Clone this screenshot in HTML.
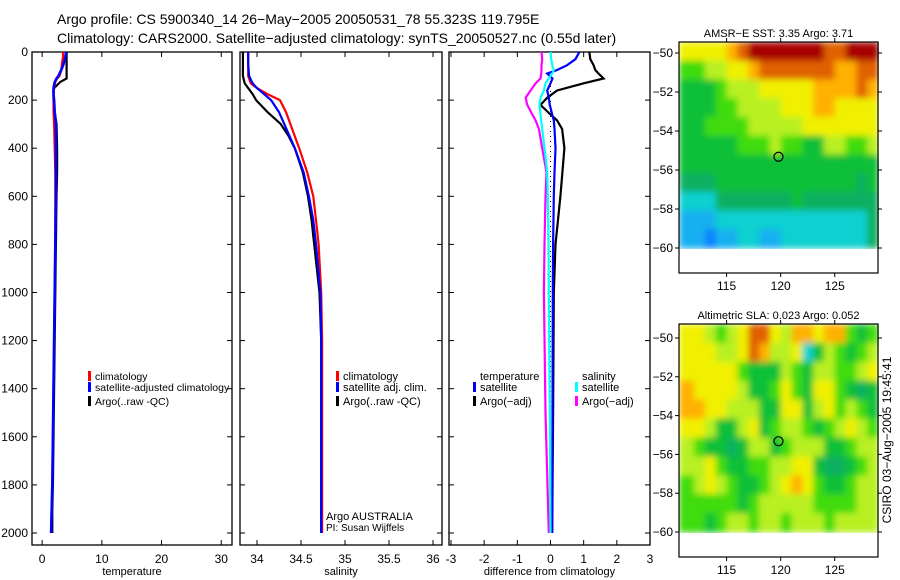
<!DOCTYPE html>
<html><head><meta charset="utf-8"><style>
body{margin:0;background:#fff}
svg{display:block;font-family:"Liberation Sans",sans-serif}
</style></head><body>
<svg id="fig" width="900" height="580" viewBox="0 0 900 580">
<defs>
<filter id="smooth" x="0" y="0" width="1" height="1" filterUnits="objectBoundingBox"><feGaussianBlur stdDeviation="3.2" edgeMode="duplicate"/></filter>
</defs>
<text x="57" y="24" font-size="14">Argo profile: CS 5900340_14 26−May−2005 20050531_78 55.323S 119.795E</text>
<text x="57" y="43" font-size="14">Climatology: CARS2000. Satellite−adjusted climatology: synTS_20050527.nc (0.55d later)</text>
<g id="g"></g>
</svg>
<script>
// ---- profile data ----
const tDepth=[0,20,50,75,100,110,125,150,175,200,250,300,400,500,600,800,1000,1200,1400,1600,1800,1900,2000];
const tArgo=[4.1,4.1,4.1,4.1,4.1,4.1,3.0,2.0,1.9,1.9,2.1,2.4,2.5,2.5,2.4,2.3,2.2,2.1,2.0,1.9,1.8,1.7,1.7];
const tClim=[3.5,3.5,3.3,3.2,2.9,2.5,2.2,2.0,1.9,1.9,1.9,2.0,2.1,2.2,2.2,2.2,2.1,2.0,1.9,1.8,1.7,1.6,1.5];
const tSat=[4.0,3.9,3.6,3.2,2.7,2.4,2.1,1.9,1.9,2.0,2.1,2.3,2.3,2.3,2.3,2.2,2.1,2.0,1.9,1.8,1.7,1.6,1.5];
const sDepth=[0,50,100,130,150,175,200,250,300,350,400,500,600,700,800,1000,1200,1500,2000];
const sArgo=[33.84,33.84,33.84,33.86,33.9,33.95,33.99,34.12,34.27,34.36,34.43,34.52,34.58,34.62,34.65,34.71,34.73,34.73,34.73];
const sClim=[33.9,33.9,33.9,33.93,34.0,34.12,34.26,34.33,34.38,34.43,34.48,34.57,34.64,34.67,34.7,34.73,34.74,34.74,34.74];
const sSat=[33.9,33.9,33.91,33.95,34.0,34.08,34.16,34.25,34.31,34.37,34.43,34.53,34.59,34.64,34.67,34.72,34.73,34.73,34.73];
const dDepth=[0,30,55,75,90,110,130,160,190,220,260,285,320,400,500,600,800,1000,1500,2000];
const dArgoT=[1.17,1.2,1.3,1.35,1.45,1.6,1.0,0.2,-0.1,-0.3,0,0.2,0.35,0.42,0.36,0.3,0.15,0.1,0.08,0.05];
const dSatT=[0.87,0.75,0.5,0.2,-0.1,0.06,0.0,-0.1,-0.05,-0.02,0.05,0.1,0.12,0.15,0.12,0.1,0.08,0.07,0.06,0.05];
const dSatS=[0,0.02,0.05,0.1,0.05,-0.05,-0.15,-0.2,-0.3,-0.33,-0.3,-0.28,-0.25,-0.18,-0.1,-0.08,-0.06,-0.05,-0.02,0];
const dArgoS=[-0.27,-0.25,-0.27,-0.27,-0.28,-0.3,-0.45,-0.6,-0.75,-0.7,-0.55,-0.45,-0.35,-0.25,-0.12,-0.15,-0.18,-0.2,-0.15,-0.05];
const depthTicks=[0,200,400,600,800,1000,1200,1400,1600,1800,2000];
const tTicks=[0,10,20,30];
const sTicks=[34,34.5,35,35.5,36];
const dTicks=[-3,-2,-1,0,1,2,3];
// ---- map data (rows north->south, cols west->east, lon 111..129) ----
const sstGrid=[
[7,7,7,7,8,9,10,10,10,10,10,10,10,9,9,10,10,10],
[5,5,6,6,7,7,8,9,9,9,9,9,9,9,8,8,9,9],
[4,4,4,5,6,6,6,7,7,7,7,7,8,8,8,8,9,8],
[4,4,4,5,5,6,6,6,6,7,7,7,8,8,7,7,7,7],
[4,4,5,5,5,5,6,6,6,6,6,7,7,7,7,7,7,7],
[4,4,4,4,4,5,5,5,6,5,5,4,4,6,6,5,5,6],
[4,4,4,4,4,4,4,4,4,4,4,4,4,4,4,4,4,4],
[3,3,3,4,4,4,4,4,4,4,4,4,4,4,4,4,3,4],
[2,2,2,3,3,3,3,3,3,3,4,3,3,3,3,3,3,3],
[1,1,1,2,2,2,2,2,2,2,2,2,2,2,2,2,2,3],
[1,1,0,1,1,2,2,1,1,2,2,2,2,2,2,2,2,3]];
const slaGrid=[
[7,7,6,5,6,7,9,9,7,6,8,8,7,8,8,5,4,5],
[7,7,7,6,6,7,9,8,6,6,7,2,4,6,5,4,5,6],
[7,7,7,7,7,5,4,4,4,6,5,4,6,6,5,5,6,7],
[8,7,7,7,7,6,4,4,5,7,5,4,7,7,5,4,3,4],
[8,8,7,7,6,6,6,4,4,7,7,4,6,7,5,6,5,4],
[7,7,6,4,4,6,7,4,5,6,6,5,4,5,6,7,6,5],
[6,5,4,4,3,4,6,6,4,5,6,6,6,4,4,5,6,6],
[6,6,7,5,4,4,5,5,6,6,7,7,4,3,3,4,5,6],
[5,6,7,6,5,4,4,5,6,7,8,7,5,4,4,5,6,6],
[5,5,5,5,5,4,5,6,6,6,6,6,5,5,5,5,6,6],
[5,5,4,5,6,6,5,6,6,5,6,6,6,5,6,6,6,6]];
const palette=["#1080ff","#18b0f0","#10d0d0","#10b060","#08c038","#40dc10","#b8f020","#f0f000","#ffb000","#e06000","#a80000"];
const lonTicks=[115,120,125];
const latTicks=[-50,-52,-54,-56,-58,-60];
const argoLon=[119.8], argoLat=[-55.32];

const NS="http://www.w3.org/2000/svg";
const G=document.getElementById('g');
function mk(tag,attrs,parent){const e=document.createElementNS(NS,tag);for(const k in attrs)e.setAttribute(k,attrs[k]);(parent||G).appendChild(e);return e;}
function txt(x,y,s,size,anchor,parent){const e=mk('text',{x:x,y:y,'font-size':size||11,'text-anchor':anchor||'start'},parent);e.textContent=s;return e;}

const Y0=52,Y1=545,yD=d=>Y0+d*0.2405;
function panel(name,x0,x1,xmin,xmax,ticks,label,showY){
  const xs=v=>x0+(v-xmin)/(xmax-xmin)*(x1-x0);
  const g=mk('g',{});
  
  
  const r=mk('rect',{x:x0,y:Y0,width:x1-x0,height:Y1-Y0,fill:'none',stroke:'#000','stroke-width':1.3},g);
  
  
  ticks.forEach(t=>{const x=xs(t);
    mk('line',{x1:x,x2:x,y1:Y0,y2:Y0+5,stroke:'#000'},g);
    mk('line',{x1:x,x2:x,y1:Y1,y2:Y1-5,stroke:'#000'},g);
    const l=txt(x,Y1+18,String(t),12,'middle',g);
    
    
  });
  depthTicks.forEach(d=>{const y=yD(d);
    mk('line',{x1:x0,x2:x0+5,y1:y,y2:y,stroke:'#000'},g);
    mk('line',{x1:x1,x2:x1-5,y1:y,y2:y,stroke:'#000'},g);
    if(showY){const l=txt(x0-4,y+4,String(d),12,'end',g);
      
      }
  });
  const xl=txt((x0+x1)/2,Y1+30,label,11,'middle',g);
  
  
  return xs;
}
function line(xs,depths,vals,color,name,w,dash){
  const pts=depths.map((d,i)=>xs(vals[i]).toFixed(1)+','+yD(d).toFixed(1)).join(' ');
  const p=mk('polyline',{points:pts,fill:'none',stroke:color,'stroke-width':w||2.2});
  if(dash)p.setAttribute('stroke-dasharray',dash);
  
  
}
function leg(x,y,color,label,size){
  if(color){const b=mk('rect',{x:x,y:y-9,width:3,height:10,fill:color});
    
    }
  const t=txt(x+7,y,label,size||11);
  
  
}

const xT=panel('temperature-panel',32,232,-1.7,31.8,tTicks,'temperature',true);
line(xT,tDepth,tArgo,'#000','temp-argo-line');
line(xT,tDepth,tClim,'#f00','temp-climatology-line');
line(xT,tDepth,tSat,'#00f','temp-satellite-line',2.6);
leg(88,380,'#f00','climatology',10.5);leg(88,391,'#00f','satellite-adjusted climatology',10.5);leg(88,405,'#000','Argo(..raw -QC)',10.5);

const xS=panel('salinity-panel',240,442,33.807,36.102,sTicks,'salinity',false);
line(xS,sDepth,sArgo,'#000','sal-argo-line');
line(xS,sDepth,sClim,'#f00','sal-climatology-line');
line(xS,sDepth,sSat,'#00f','sal-satellite-line');
leg(336,380,'#f00','climatology');leg(336,391,'#00f','satellite adj. clim.');leg(336,405,'#000','Argo(..raw -QC)');
const a1=txt(326,520,'Argo AUSTRALIA',11);
const a2=txt(326,531,'PI: Susan Wijffels',10);

const xDf=panel('difference-panel',449,650,-3.06,3.0,dTicks,'difference from climatology',false);
const z=mk('line',{x1:xDf(0),x2:xDf(0),y1:yD(100),y2:yD(2000),stroke:'#000','stroke-dasharray':'1 4'});

line(xDf,dDepth,dArgoS,'#f0f','diff-argo-sal-line');
line(xDf,dDepth,dArgoT,'#000','diff-argo-temp-line');
line(xDf,dDepth,dSatT,'#00f','diff-sat-temp-line');
line(xDf,dDepth,dSatS,'#0ff','diff-sat-sal-line');
leg(473,380,null,'temperature');leg(473,391,'#00f','satellite');leg(473,405,'#000','Argo(−adj)');
leg(575,380,null,'salinity');leg(575,391,'#0ff','satellite');leg(575,405,'#f0f','Argo(−adj)');

function map(name,grid,top,bottom,lat50,lat60,title){
  const xL=679,xR=878,lonMin=110.6,lonMax=129.0;
  const xm=l=>xL+(l-lonMin)/(lonMax-lonMin)*(xR-xL);
  const ym=la=>lat50+(la+50)/(-10)*(lat60-lat50);
  const g=mk('g',{});
  
  
  const topLat=-50+(top-lat50)/(lat60-lat50)*(-10);
  const nr=grid.length,dl=(topLat+60)/nr;
  const cells=mk('g',{filter:'url(#smooth)'},g);
  
  
  grid.forEach((row,i)=>row.forEach((v,j)=>{
    const la0=topLat-i*dl,la1=la0-dl;
    const lo0=(j===0?lonMin:111+j),lo1=(j===row.length-1?lonMax:112+j);
    const c=mk('rect',{x:xm(lo0).toFixed(1),y:ym(la0).toFixed(1),width:(xm(lo1)-xm(lo0)+0.6).toFixed(1),height:(ym(la1)-ym(la0)+0.6).toFixed(1),fill:palette[v]},cells);
    
    
  }));
  const r=mk('rect',{x:xL,y:top,width:xR-xL,height:bottom-top,fill:'none',stroke:'#000','stroke-width':1.2},g);
  
  lonTicks.forEach(l=>{const x=xm(l);
    mk('line',{x1:x,x2:x,y1:top,y2:top-4,stroke:'#000'},g);mk('line',{x1:x,x2:x,y1:bottom,y2:bottom+4,stroke:'#000'},g);
    const t=txt(x,bottom+17,String(l),12,'middle',g);});
  latTicks.forEach(l=>{const y=ym(l);
    mk('line',{x1:xL,x2:xL-4,y1:y,y2:y,stroke:'#000'},g);mk('line',{x1:xR,x2:xR+4,y1:y,y2:y,stroke:'#000'},g);
    const t=txt(xL-6,y+4,String(l).replace('-','−'),12,'end',g);});
  const tt=txt((xL+xR)/2,top-5,title,11,'middle',g);
  
  const m=mk('circle',{cx:xm(argoLon[0]),cy:ym(argoLat[0]),r:4.5,fill:'none',stroke:'#000','stroke-width':1.2},g);
  
}
map('sst-map',sstGrid,42,273,53,248,'AMSR−E SST: 3.35 Argo: 3.71');
map('sla-map',slaGrid,324,557,338,532,'Altimetric SLA: 0.023 Argo: 0.052');
const cs=txt(0,0,'CSIRO 03−Aug−2005 19:45:41',12,'middle');
cs.setAttribute('transform','translate(891,440) rotate(-90)');


</script>
</body></html>
